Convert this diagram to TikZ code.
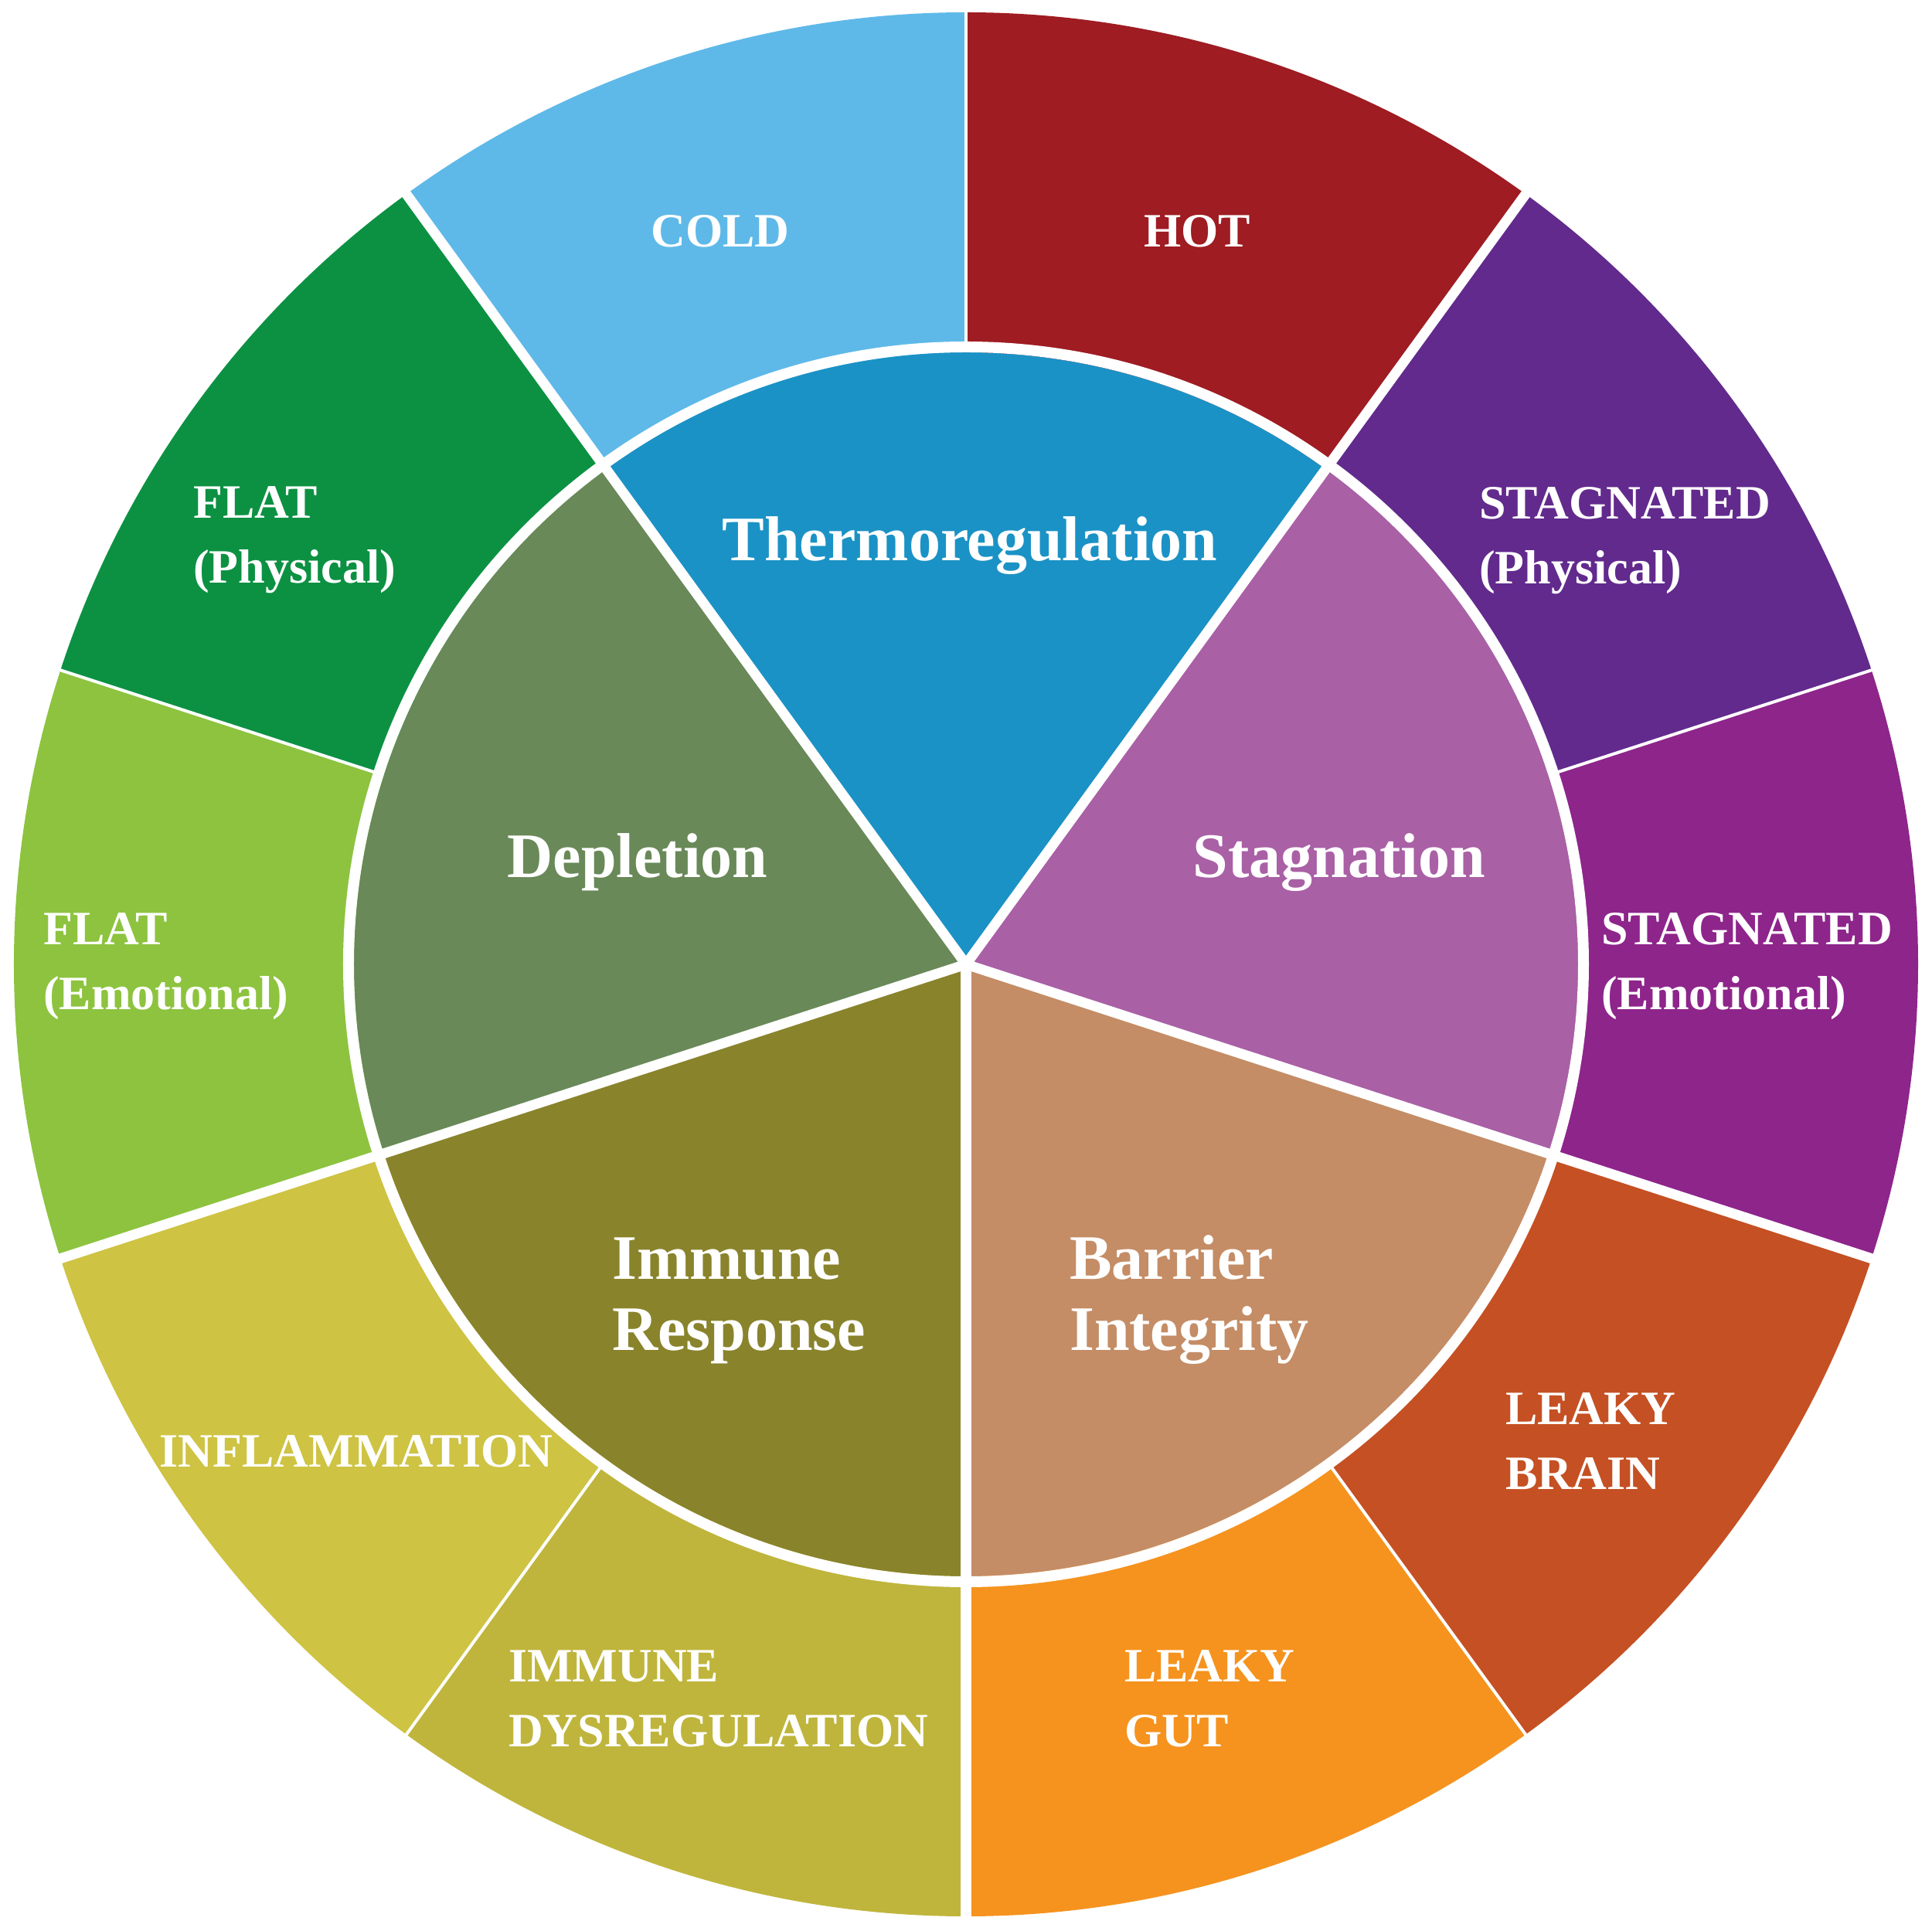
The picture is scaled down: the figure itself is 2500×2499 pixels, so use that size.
\documentclass[tikz,border=0pt]{standalone}
\usepackage{fontspec}
\setmainfont{Liberation Serif}
\usepackage{tikz}
\usepackage{xcolor}
% outer ring colours
\definecolor{coldblue}{HTML}{5FB9E8}
\definecolor{hotred}{HTML}{9E1C22}
\definecolor{stagphys}{HTML}{622A8D}
\definecolor{stagemo}{HTML}{8E258B}
\definecolor{leakybrain}{HTML}{C55023}
\definecolor{leakygut}{HTML}{F5931E}
\definecolor{immdys}{HTML}{BFB53C}
\definecolor{inflam}{HTML}{CEC343}
\definecolor{flatemo}{HTML}{8DC33F}
\definecolor{flatphys}{HTML}{0C9143}
% inner colours
\definecolor{thermo}{HTML}{1B92C5}
\definecolor{stagnation}{HTML}{A960A5}
\definecolor{barrier}{HTML}{C48D66}
\definecolor{immune}{HTML}{89832C}
\definecolor{depletion}{HTML}{698958}
\tikzstyle{outerlabel} = [text=white,
font=\fontsize{62}{84}\selectfont\bfseries,
inner sep=0pt,
align=left]
\tikzstyle{innerlabel} = [text=white,
font=\fontsize{82}{92}\selectfont\bfseries,
inner sep=0pt,
align=left]
\tikzstyle{thickgap} = [white, line width=13pt]
\tikzstyle{thingap} = [white, line width=4pt]

\begin{document}
\begin{tikzpicture}[x=1pt,y=1pt]
        \useasboundingbox (-1250,-1251) rectangle (1250,1248);
        % outer ring
        \foreach \a/\c in {90/hotred, 54/stagphys, 18/stagemo, -18/leakybrain, -54/leakygut,
                -90/immdys, -126/inflam, -162/flatemo, -198/flatphys, -234/coldblue}
            \fill[\c] (0,0) -- (\a:1232) arc (\a:\a-36:1232pt) -- cycle;
        % inner wheel
        \foreach \a/\c in {126/thermo, 54/stagnation, -18/barrier, -90/immune, -162/depletion}
            \fill[\c] (0,0) -- (\a:792) arc (\a:\a-72:792pt) -- cycle;
        \draw[white, line width=14pt] (0,0) circle (799pt);
        \foreach \a in {54,126,198,270,342}
            \draw[thickgap] (0,0) -- (\a:1240);
        \foreach \a in {18,90,162,234,306}
            \draw[thingap] (\a:799) -- (\a:1240);
        % labels (base = last line)
        \node (cold) [outerlabel, anchor=base] at (-318,928.5) {COLD};
        \node (hot) [outerlabel, anchor=base] at (299,928.5) {HOT};
        \node (flatp) [outerlabel, anchor=base west] at (-1000,493.5) {FLAT\\(Physical)};
        \node (stagp) [outerlabel, anchor=base west] at (664,492.5) {STAGNATED\\(Physical)};
        \node (flate) [outerlabel, anchor=base west] at (-1194,-59) {FLAT\\(Emotional)};
        \node (stage) [outerlabel, anchor=base west] at (822,-59) {STAGNATED\\(Emotional)};
        \node (brain) [outerlabel, anchor=base west] at (698,-679) {LEAKY\\BRAIN};
        \node (gut) [outerlabel, anchor=base west] at (205,-1012.5) {LEAKY\\GUT};
        \node (dysreg) [outerlabel, anchor=base west] at (-592,-1012.5) {IMMUNE\\DYSREGULATION};
        \node (inflamm) [outerlabel, anchor=base] at (-789,-650) {INFLAMMATION};
        \node (thermoreg) [innerlabel, anchor=base] at (5,522) {Thermoregulation};
        \node (deplet) [innerlabel, anchor=base] at (-425,112) {Depletion};
        \node (stagn) [innerlabel, anchor=base] at (483,112) {Stagnation};
        \node (immresp) [innerlabel, anchor=base west] at (-458,-499.5) {Immune\\Response};
        \node (barrint) [innerlabel, anchor=base west] at (134,-499.5) {Barrier\\Integrity};
    \end{tikzpicture}
\end{document}
